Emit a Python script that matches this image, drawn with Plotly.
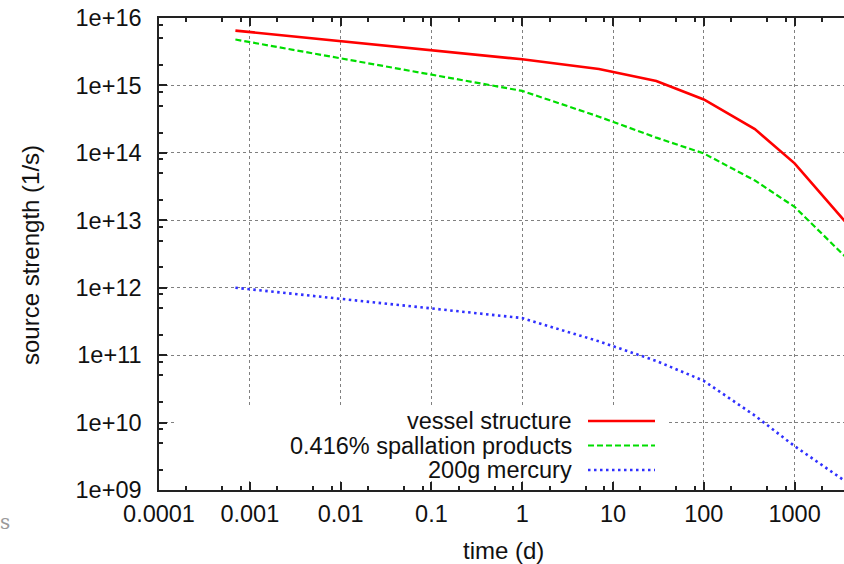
import plotly.graph_objects as go

# ---- data ----
time_d = [6.94e-4, 0.04167, 1, 7, 30, 100, 365, 1000, 3650]
vessel_structure = [6.5e15, 3.73e15, 2.44e15, 1.75e15, 1.16e15, 6.2e14, 2.25e14, 6.98e13, 9.4e12]
spallation_products = [4.8e15, 1.8e15, 8.3e14, 3.44e14, 1.68e14, 9.8e13, 3.9e13, 1.58e13, 2.85e12]
mercury_200g = [1.0e12, 5.56e11, 3.55e11, 1.6e11, 8.2e10, 4.16e10, 1.27e10, 4.47e9, 1.34e9]

series_names = ["vessel structure", "0.416% spallation products", "200g mercury"]
series_values = [vessel_structure, spallation_products, mercury_200g]
series_colors = ["#ff0000", "#00dd00", "#3030ff"]
series_dash = ["solid", "6px,3px", "2.5px,3.5px"]
series_width = [2.6, 2.2, 2.6]

x_tickvals = [1e-4, 1e-3, 1e-2, 1e-1, 1, 10, 100, 1000]
x_ticktext = ["0.0001", "0.001", "0.01", "0.1", "1", "10", "100", "1000"]
y_tickvals = [1e9, 1e10, 1e11, 1e12, 1e13, 1e14, 1e15, 1e16]
y_ticktext = ["1e+09", "1e+10", "1e+11", "1e+12", "1e+13", "1e+14", "1e+15", "1e+16"]

minor_x = [m * 10.0 ** e for e in range(-4, 4) for m in (2, 5, 8)]
minor_y = [m * 10.0 ** e for e in range(9, 16) for m in (2, 5, 8)]

FONT = "Liberation Sans, Arial, sans-serif"
W, H = 844, 564
ML, MR, MT, MB = 159, 0, 18, 74
PW, PH = W - ML - MR, H - MT - MB
PX_PER_DEC = 90.8

fig = go.Figure()
for name, vals, col, dash, w in zip(series_names, series_values, series_colors, series_dash, series_width):
    fig.add_trace(go.Scatter(x=time_d, y=vals, mode="lines", name=name,
                             line=dict(color=col, dash=dash, width=w),
                             showlegend=False))

def px2paper_x(px):
    return (px - ML) / PW

def px2paper_y(py):
    return (H - MB - py) / PH

axis_common = dict(
    type="log", showline=True, linecolor="#222222", linewidth=1.5,
    ticks="inside", ticklen=8, tickwidth=1.5, tickcolor="#222222",
    showgrid=True, gridcolor="#808080", griddash="dot", gridwidth=1,
    zeroline=False, tickfont=dict(family=FONT, size=23.5, color="#111111"),
)

fig.update_xaxes(
    **axis_common,
    range=[-4, -4 + PW / PX_PER_DEC],
    tickmode="array", tickvals=x_tickvals, ticktext=x_ticktext,
    mirror="ticks", ticklabelstandoff=2,
    minor=dict(tickmode="array", tickvals=minor_x, ticks="inside", ticklen=4.5,
               tickwidth=1.5, tickcolor="#222222", showgrid=False),
)
fig.update_yaxes(
    **axis_common,
    range=[9, 16],
    tickmode="array", tickvals=y_tickvals, ticktext=y_ticktext,
    mirror=False, ticklabelstandoff=11,
    minor=dict(tickmode="array", tickvals=minor_y, ticks="inside", ticklen=4.5,
               tickwidth=1.5, tickcolor="#222222", showgrid=False),
)

shapes = []
annotations = []
# legend box (white, covers the grid)
shapes.append(dict(type="rect", xref="paper", yref="paper", layer="above",
                   x0=px2paper_x(175), x1=px2paper_x(667),
                   y0=px2paper_y(481), y1=px2paper_y(408),
                   fillcolor="white", line=dict(width=0)))
row_y = [421, 445.5, 470]
for name, col, dash, w, ry in zip(series_names, series_colors, series_dash, series_width, row_y):
    annotations.append(dict(xref="paper", yref="paper", x=px2paper_x(573), y=px2paper_y(ry),
                            xanchor="right", yanchor="middle", text=name, showarrow=False,
                            borderpad=0,
                            font=dict(family=FONT, size=23.5, color="#111111")))
    shapes.append(dict(type="line", xref="paper", yref="paper", layer="above",
                       x0=px2paper_x(588), x1=px2paper_x(655),
                       y0=px2paper_y(ry), y1=px2paper_y(ry),
                       line=dict(color=col, dash=dash, width=w)))

# axis titles
annotations.append(dict(xref="paper", yref="paper", x=px2paper_x(30), y=px2paper_y(255),
                        xanchor="center", yanchor="middle", textangle=-90,
                        text="source strength (1/s)", showarrow=False,
                        font=dict(family=FONT, size=24, color="#111111")))
annotations.append(dict(xref="paper", yref="paper", x=px2paper_x(503.5), y=px2paper_y(550),
                        xanchor="center", yanchor="middle",
                        text="time (d)", showarrow=False,
                        font=dict(family=FONT, size=24, color="#111111")))
# stray cropped glyph at the bottom-left of the reference
annotations.append(dict(xref="paper", yref="paper", x=px2paper_x(-1), y=px2paper_y(522),
                        xanchor="left", yanchor="middle", text="s", showarrow=False,
                        borderpad=0,
                        font=dict(family="DejaVu Serif, Liberation Serif, serif", size=20, color="#9a9a9a")))

fig.update_layout(
    width=W, height=H,
    margin=dict(l=ML, r=MR, t=MT, b=MB),
    paper_bgcolor="white", plot_bgcolor="white",
    shapes=shapes, annotations=annotations,
    showlegend=False,
)

fig.write_html("out.html")
